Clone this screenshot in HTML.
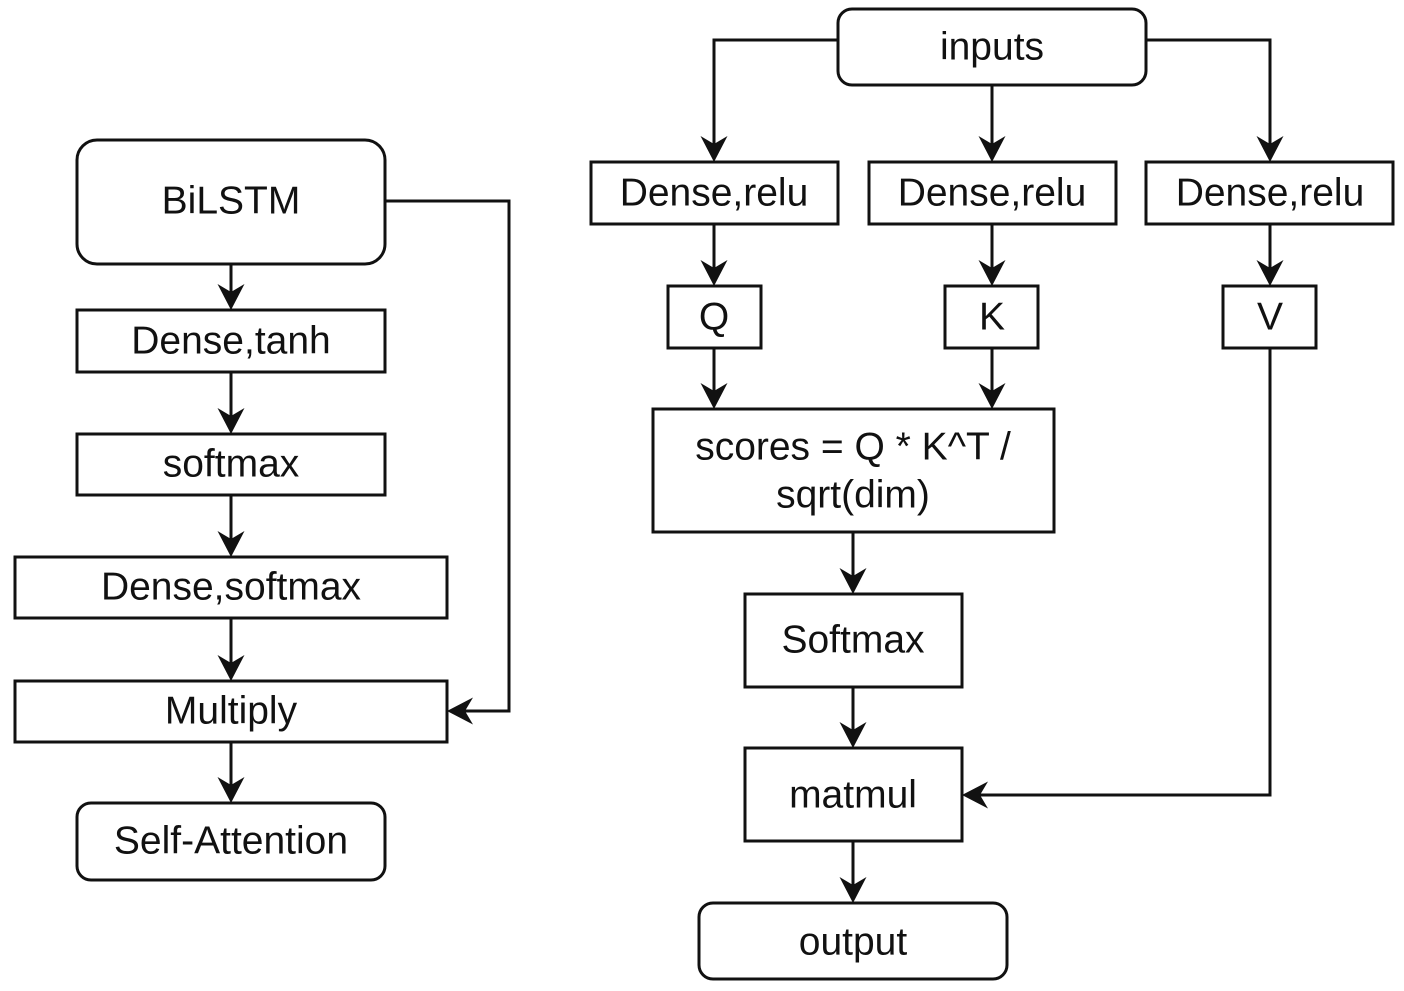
<!DOCTYPE html>
<html><head><meta charset="utf-8"><style>
html,body{margin:0;padding:0;background:#fff}
svg{display:block}
text{font-family:"Liberation Sans",Arial,sans-serif;font-size:39px;fill:#111;text-anchor:middle;dominant-baseline:central}
</style></head><body>
<svg width="1404" height="991" viewBox="0 0 1404 991" xmlns="http://www.w3.org/2000/svg">
<g fill="#fff" stroke="#111" stroke-width="3">
<rect x="838" y="9" width="308" height="76" rx="14"/>
<rect x="591" y="162" width="247" height="62"/>
<rect x="869" y="162" width="247" height="62"/>
<rect x="1146" y="162" width="247" height="62"/>
<rect x="668" y="286" width="93" height="62"/>
<rect x="945" y="286" width="93" height="62"/>
<rect x="1223" y="286" width="93" height="62"/>
<rect x="653" y="409" width="401" height="123"/>
<rect x="745" y="594" width="217" height="93"/>
<rect x="745" y="748" width="217" height="93"/>
<rect x="699" y="903" width="308" height="76" rx="14"/>
<rect x="77" y="140" width="308" height="124" rx="20"/>
<rect x="77" y="310" width="308" height="62"/>
<rect x="77" y="434" width="308" height="61"/>
<rect x="15" y="557" width="432" height="61"/>
<rect x="15" y="681" width="432" height="61"/>
<rect x="77" y="803" width="308" height="77" rx="14"/>
</g>
<g fill="none" stroke="#111" stroke-width="3">
<path d="M838 40H714V145"/>
<path d="M1146 40H1270V145"/>
<path d="M992 85V145"/>
<path d="M714 224V269M992 224V269M1270 224V269"/>
<path d="M714 348V392M992 348V392"/>
<path d="M853 532V577M853 687V731M853 841V886"/>
<path d="M1270 348V795H979"/>
<path d="M231 264V293M231 372V417M231 495V540M231 618V664M231 742V786"/>
<path d="M385 201H509V711H464"/>
</g>
<g fill="#111">
<path d="M714 162l-13.5-26 13.5 8 13.5-8z"/>
<path d="M992 162l-13.5-26 13.5 8 13.5-8z"/>
<path d="M1270 162l-13.5-26 13.5 8 13.5-8z"/>
<path d="M714 286l-13.5-26 13.5 8 13.5-8z"/>
<path d="M992 286l-13.5-26 13.5 8 13.5-8z"/>
<path d="M1270 286l-13.5-26 13.5 8 13.5-8z"/>
<path d="M714 409l-13.5-26 13.5 8 13.5-8z"/>
<path d="M992 409l-13.5-26 13.5 8 13.5-8z"/>
<path d="M853 594l-13.5-26 13.5 8 13.5-8z"/>
<path d="M853 748l-13.5-26 13.5 8 13.5-8z"/>
<path d="M853 903l-13.5-26 13.5 8 13.5-8z"/>
<path d="M231 310l-13.5-26 13.5 8 13.5-8z"/>
<path d="M231 434l-13.5-26 13.5 8 13.5-8z"/>
<path d="M231 557l-13.5-26 13.5 8 13.5-8z"/>
<path d="M231 681l-13.5-26 13.5 8 13.5-8z"/>
<path d="M231 803l-13.5-26 13.5 8 13.5-8z"/>
<path d="M962 795l26-13.5-8 13.5 8 13.5z"/>
<path d="M447 711l26-13.5-8 13.5 8 13.5z"/>
</g>
<text x="992" y="47">inputs</text>
<text x="714" y="193">Dense,relu</text>
<text x="992" y="193">Dense,relu</text>
<text x="1270" y="193">Dense,relu</text>
<text x="714" y="317">Q</text>
<text x="992" y="317">K</text>
<text x="1270" y="317">V</text>
<text x="853" y="447">scores = Q * K^T /</text>
<text x="853" y="495">sqrt(dim)</text>
<text x="853" y="640">Softmax</text>
<text x="853" y="795">matmul</text>
<text x="853" y="942">output</text>
<text x="231" y="201">BiLSTM</text>
<text x="231" y="341">Dense,tanh</text>
<text x="231" y="464">softmax</text>
<text x="231" y="587">Dense,softmax</text>
<text x="231" y="711">Multiply</text>
<text x="231" y="841">Self-Attention</text>
</svg>
</body></html>
